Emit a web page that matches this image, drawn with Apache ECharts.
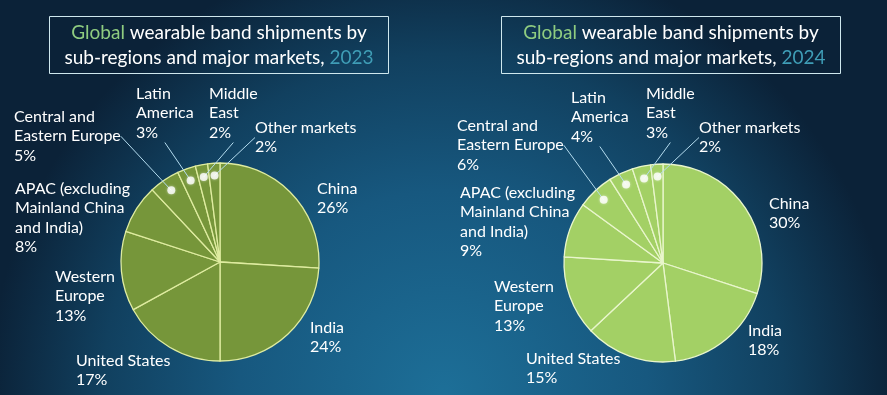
<!DOCTYPE html>
<html>
<head>
<meta charset="utf-8">
<script src="https://cdn.jsdelivr.net/npm/echarts@6/dist/echarts.min.js"></script>
<style>
html,body{margin:0;padding:0;width:887px;height:395px;overflow:hidden;}
#c{width:887px;height:395px;}
</style>
</head>
<body>
<div id="c"></div>
<script>
// ---- data ----
const categories = [
  'China', 'India', 'United States', 'Western\nEurope',
  'APAC (excluding\nMainland China\nand India)',
  'Central and\nEastern Europe', 'Latin\nAmerica', 'Middle\nEast', 'Other markets'
];
const shares2023 = [26, 24, 17, 13, 8, 5, 3, 2, 2];
const shares2024 = [30, 18, 15, 13, 9, 6, 4, 3, 2];
const years = ['2023', '2024'];
const smallSlices = [5, 6, 7, 8]; // labels joined by leader lines

// ---- layout (label top-left positions, px) ----
const labelPos = [
  [[317,179],[310,318],[76,351],[55,267],[15,179],[14,107],[136,84],[209,84],[255,118]],
  [[769,194],[748,321],[526,349],[494,277],[460,183],[457,116],[571,88],[646,84],[699,118]]
];
const centers = [[220,262],[663,263]];
const R = 99;
const dotR = 0.875;
const pieColors = ['#76963a', '#a3d065'];
const sepColors = ['#dfeca0', '#e9f6cc'];

const chart = echarts.init(document.getElementById('c'), null, {renderer:'canvas'});
const font = 'Lato, "Open Sans", sans-serif';
const labelFont = 16;
const titleFont = 19;

function midAngles(vals){
  let cum = 0; const out = [];
  vals.forEach(v => { out.push(cum + v/2); cum += v; });
  return out;
}

const datasets = [shares2023, shares2024];
const series = [];
const polar = [], angleAxis = [], radiusAxis = [], titles = [];

datasets.forEach((vals, k) => {
  const data = categories.map((n, i) => ({name: n, value: vals[i]}));
  const layoutFn = p => ({x: labelPos[k][p.dataIndex][0], y: labelPos[k][p.dataIndex][1], align: 'left', verticalAlign: 'top'});
  // main pie
  series.push({
    type: 'pie', center: centers[k], radius: R, startAngle: 90, clockwise: true,
    silent: true, animation: false,
    itemStyle: {color: pieColors[k], borderColor: sepColors[k], borderWidth: 1.3},
    label: {
      show: true, position: 'outside', color: '#ffffff', fontFamily: font, fontSize: labelFont,
      lineHeight: 19.5, overflow: 'none',
      formatter: p => smallSlices.includes(p.dataIndex) ? '' : p.name + '\n' + p.value + '%'
    },
    labelLine: {show: false},
    labelLayout: layoutFn,
    emphasis: {disabled: true},
    data: data
  });
  // leader-line pie (transparent, at dot radius)
  series.push({
    type: 'pie', center: centers[k], radius: R * dotR, startAngle: 90, clockwise: true,
    silent: true, animation: false, z: 3,
    itemStyle: {color: 'rgba(0,0,0,0)', borderWidth: 0},
    label: {
      show: true, position: 'outside', color: '#ffffff', fontFamily: font, fontSize: labelFont,
      lineHeight: 19.5, overflow: 'none',
      formatter: p => p.name + '\n' + p.value + '%'
    },
    labelLine: {show: true, length: 10, length2: 0, lineStyle: {color: '#b4dcef', width: 1}},
    labelLayout: layoutFn,
    emphasis: {disabled: true},
    data: data.map((d, i) => smallSlices.includes(i) ? d : {name: d.name, value: d.value, label: {show: false}, labelLine: {show: false}})
  });
  // dots
  polar.push({center: centers[k], radius: R});
  angleAxis.push({polarIndex: k, type: 'value', min: 0, max: 100, startAngle: 90, clockwise: true, show: false});
  radiusAxis.push({polarIndex: k, type: 'value', min: 0, max: 1, show: false});
  const mids = midAngles(vals);
  series.push({
    type: 'scatter', coordinateSystem: 'polar', polarIndex: k, silent: true, animation: false, z: 5,
    symbol: 'circle', symbolSize: 8,
    itemStyle: {color: '#ffffff', shadowColor: 'rgba(255,255,255,0.6)', shadowBlur: 3},
    data: smallSlices.map(i => [dotR, mids[i]])
  });
  titles.push({
    text: '{g|Global} wearable band shipments by\nsub-regions and major markets, {y|' + years[k] + '}',
    left: k === 0 ? 204 : 656, top: 16, textAlign: 'center',
    padding: [4, 15, 4, 15],
    borderColor: '#cfe8ee', borderWidth: 1,
    textStyle: {
      color: '#ffffff', fontFamily: font, fontSize: titleFont, fontWeight: 'normal', lineHeight: 25,
      rich: {
        g: {color: '#8fcc80', fontFamily: font, fontSize: titleFont, lineHeight: 25},
        y: {color: '#3f9db6', fontFamily: font, fontSize: titleFont, lineHeight: 25}
      }
    }
  });
});

chart.setOption({
  backgroundColor: {
    type: 'radial', x: 0.5, y: 1.0, r: 1.15,
    colorStops: [
      {offset: 0, color: '#1d6f98'},
      {offset: 0.45, color: '#17587f'},
      {offset: 0.75, color: '#11405f'},
      {offset: 1, color: '#0b2238'}
    ]
  },
  animation: false,
  title: titles,
  polar: polar,
  angleAxis: angleAxis,
  radiusAxis: radiusAxis,
  series: series
});
</script>
</body>
</html>
